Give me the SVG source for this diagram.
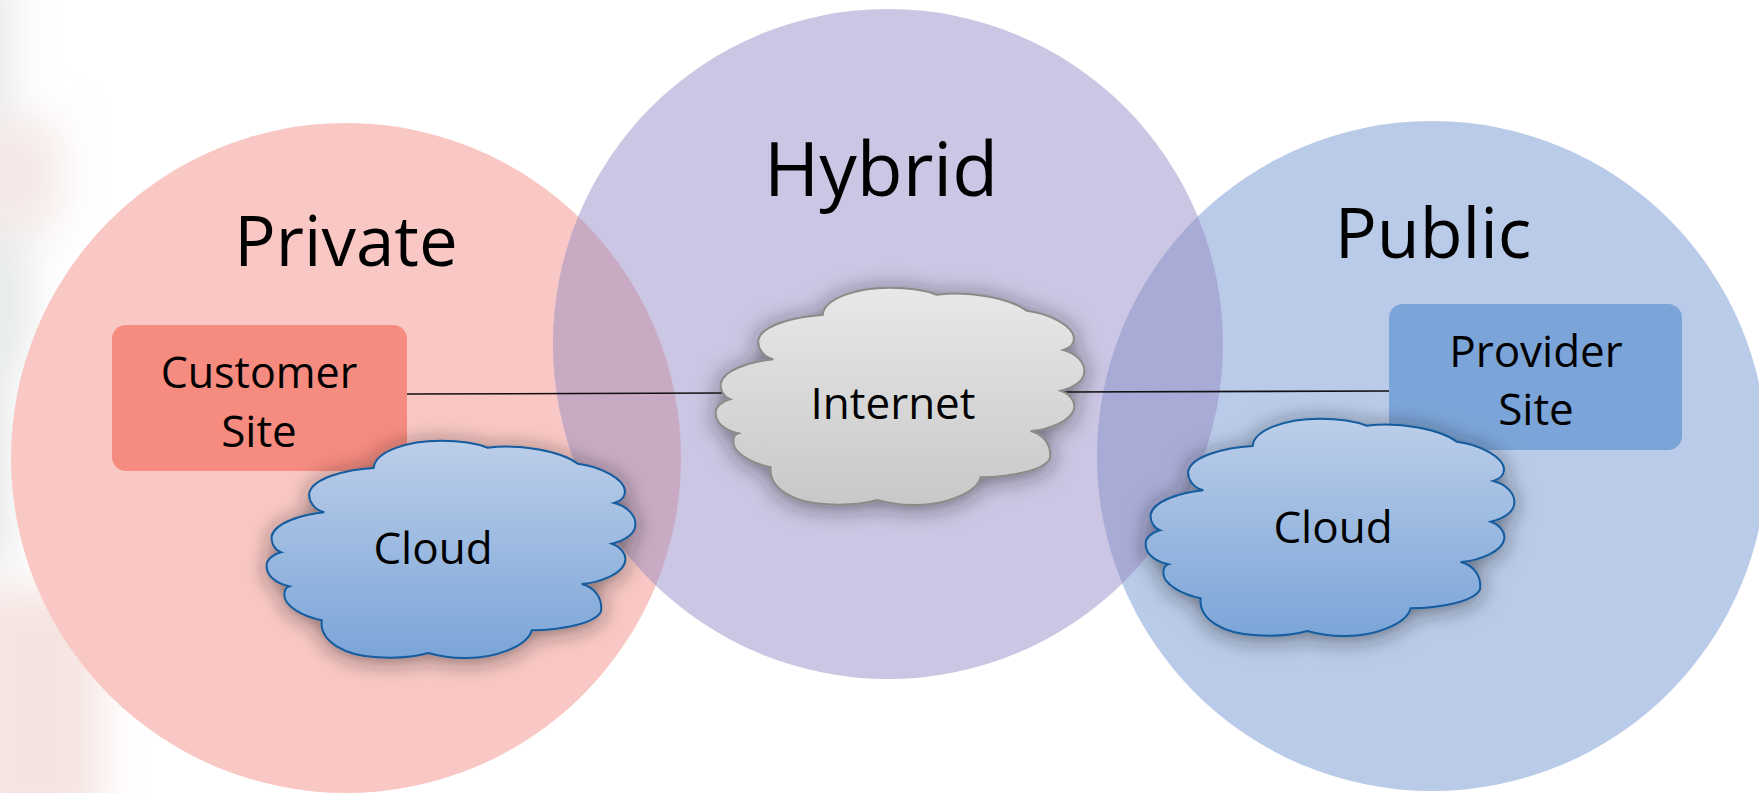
<svg xmlns="http://www.w3.org/2000/svg" width="1759" height="793" viewBox="0 0 1759 793">
<style>
text{font-family:"Open Sans","Noto Sans","Liberation Sans",sans-serif;fill:#000;text-anchor:middle}
.s{font-size:44px}
.blue{fill:url(#gb);stroke:#125c9e;stroke-width:2}
.grey{fill:url(#gg);stroke:#8a8a88;stroke-width:2}
.cn{stroke:#111;stroke-width:1.6;fill:none}
</style>
<defs>
<linearGradient id="gb" x1="0" y1="0" x2="0" y2="1"><stop offset="0" stop-color="#bccee9"/><stop offset="1" stop-color="#7ba5d8"/></linearGradient>
<linearGradient id="gg" x1="0" y1="0" x2="0" y2="1"><stop offset="0" stop-color="#e8e8e8"/><stop offset="1" stop-color="#c8c8c8"/></linearGradient>
<filter id="sh" x="-15%" y="-25%" width="130%" height="155%"><feDropShadow dx="0" dy="3" stdDeviation="11" flood-color="#222" flood-opacity=".55"/></filter>
<filter id="bl" x="-100%" y="-100%" width="300%" height="300%"><feGaussianBlur stdDeviation="22"/></filter>
<path id="cloud" d="M822.7,315C824,298.3 856.7,287.7 890,287.7C906.7,287.7 925,290 936.7,294.7C970,290.7 1010,298.3 1026.7,310.7C1050,313.3 1074,326.7 1074,338.3C1074,344 1069.3,348.3 1063.3,350C1076.7,353.3 1085,363.3 1084.3,371.7C1084,381.7 1073.3,387.3 1060.7,390.7C1070,394 1075,400.7 1074.3,407.3C1073.3,420 1050,429.3 1030.7,431C1043.3,434 1051.7,445 1050,458.3C1045,470 1010,477.3 980.7,477.3C976.7,493.3 943.3,505.7 913.3,505C900,505 886.7,502.7 877.3,500C863.3,504 843.3,505.3 826.7,504.3C793.3,502.7 768.3,488.3 770.7,467.3C751.7,463.3 733.3,453.3 733.3,441.7C733.3,436.7 736,434 738.3,433.3C723.3,430 715,421.7 715.7,411.7C716,406 723.3,400.7 730,399.3C723.3,396.7 720,390 720.7,383.3C723.3,370 750,361.7 773.3,359.3C763.3,356.7 757.3,348.3 758.3,340C761.7,325 795,316.7 822.7,315Z"/>
<clipPath id="ch"><circle cx="888" cy="344" r="335"/></clipPath>
</defs>
<rect width="1759" height="793" fill="#fff"/>
<g id="background" filter="url(#bl)">
<rect x="-30" y="-30" width="36" height="600" fill="#dfe2e2"/>
<rect x="-30" y="120" width="90" height="110" fill="#f4e8e7"/>
<rect x="-30" y="240" width="60" height="120" fill="#e6e9e9"/>
<rect x="-30" y="590" width="130" height="240" fill="#f5e3e0"/>
</g>
<g id="private-zone"><circle cx="346" cy="458" r="335" fill="#fac8c4"/><text font-size="69" x="346" y="266">Private</text></g>
<g id="public-zone"><circle cx="1432" cy="456" r="335" fill="#b9cbe9"/><text font-size="70" x="1433" y="258">Public</text></g>
<g id="hybrid-zone"><circle cx="888" cy="344" r="335" fill="#cac6e3"/>
<g clip-path="url(#ch)"><circle cx="346" cy="458" r="335" fill="#c8abc3"/><circle cx="1432" cy="456" r="335" fill="#a8abd5"/></g>
<text font-size="75" x="881" y="196">Hybrid</text></g>
<g id="connectors">
<line class="cn" x1="407" y1="394" x2="724" y2="393"/>
<line class="cn" x1="1062" y1="392" x2="1389" y2="391"/>
</g>
<g id="customer-site"><rect x="112" y="325" width="295" height="146" rx="14" fill="#f68b7f"/><text font-size="43" x="259" y="388">Customer</text><text class="s" x="259" y="447">Site</text></g>
<g id="provider-site"><rect x="1389" y="304" width="293" height="146" rx="14" fill="#7ba5d8"/><text class="s" x="1536" y="367">Provider</text><text class="s" x="1536" y="425">Site</text></g>
<g id="private-cloud"><use href="#cloud" class="blue" filter="url(#sh)" transform="translate(-449 153)"/><text class="s" x="433" y="564">Cloud</text></g>
<g id="internet"><use href="#cloud" class="grey" filter="url(#sh)"/><text class="s" x="893" y="419">Internet</text></g>
<g id="public-cloud"><use href="#cloud" class="blue" filter="url(#sh)" transform="translate(430 131)"/><text class="s" x="1333" y="543">Cloud</text></g>
</svg>
